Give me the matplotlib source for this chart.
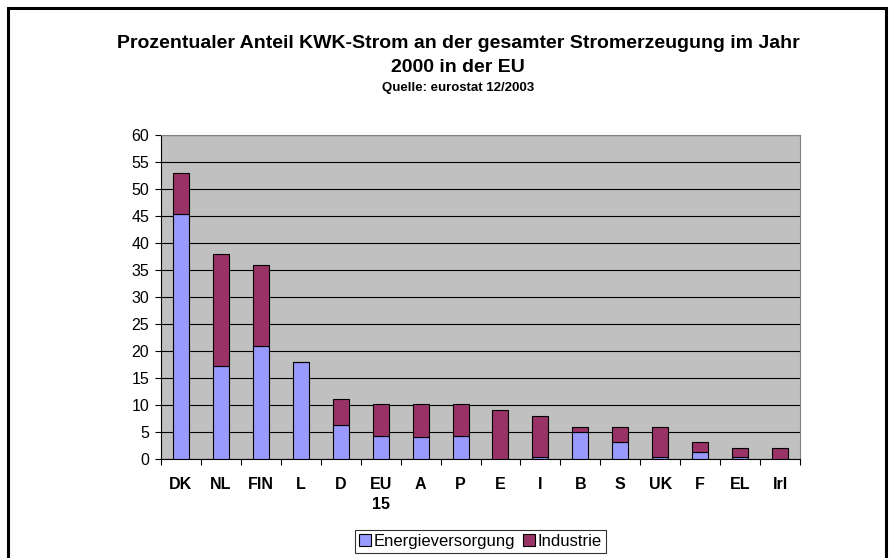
import matplotlib
matplotlib.use("Agg")
import matplotlib.pyplot as plt
from matplotlib.patches import Rectangle, Patch

plt.rcParams["font.family"] = ["Liberation Sans", "DejaVu Sans"]

# Anteil KWK-Strom 2000, Quelle: eurostat 12/2003
LAENDER = ["DK", "NL", "FIN", "L", "D", "EU\n15", "A", "P", "E", "I", "B", "S", "UK", "F", "EL", "Irl"]
ENERGIE = [45.4, 17.3, 21.0, 18.0, 6.3, 4.2, 4.0, 4.3, 0.0, 0.3, 5.0, 3.2, 0.3, 1.3, 0.3, 0.0]
INDUSTRIE = [7.6, 20.7, 14.9, 0.0, 4.8, 5.9, 6.1, 5.8, 9.1, 7.6, 0.9, 2.7, 5.6, 1.8, 1.7, 2.0]

BLUE = "#9999FF"
PLUM = "#993366"


def main():
    fig = plt.figure(figsize=(8.94, 5.58), dpi=100)
    ax = fig.add_axes([161 / 894, 99 / 558, 639 / 894, 324 / 558])
    ax.set_facecolor("#C0C0C0")

    x = range(len(LAENDER))
    ax.bar(x, ENERGIE, width=0.4, color=BLUE, edgecolor="black", linewidth=0.8, zorder=3,
           label="Energieversorgung")
    ax.bar(x, INDUSTRIE, width=0.4, bottom=ENERGIE, color=PLUM, edgecolor="black",
           linewidth=0.8, zorder=3, label="Industrie")

    ax.set_xlim(-0.5, len(LAENDER) - 0.5)
    ax.set_ylim(0, 60)
    ax.set_yticks(range(0, 61, 5))
    ax.tick_params(axis="y", labelsize=11.5, length=4.5, width=0.8, pad=4)
    ax.yaxis.grid(True, color="black", linewidth=0.8, zorder=1)
    ax.set_axisbelow(True)

    ax.set_xticks([i + 0.5 for i in range(-1, len(LAENDER))])
    ax.set_xticklabels([])
    ax.set_xticks(list(x), minor=True)
    ax.set_xticklabels(LAENDER, minor=True, fontsize=11.5, fontweight="bold", va="top",
                       linespacing=1.45)
    ax.tick_params(axis="x", which="major", length=4, width=0.8)
    ax.tick_params(axis="x", which="minor", length=0, pad=12.8)

    for s in ["top", "right"]:
        ax.spines[s].set_color("#808080")
    for s in ["left", "bottom"]:
        ax.spines[s].set_color("black")
        ax.spines[s].set_linewidth(0.8)

    fig.text(458 / 894, 1 - 43 / 558, "Prozentualer Anteil KWK-Strom an der gesamter Stromerzeugung im Jahr",
             ha="center", va="center", fontsize=14, fontweight="bold")
    fig.text(458 / 894, 1 - 68 / 558, "2000 in der EU", ha="center", va="center",
             fontsize=14, fontweight="bold")
    fig.text(458 / 894, 1 - 88 / 558, "Quelle: eurostat 12/2003", ha="center", va="center",
             fontsize=9.5, fontweight="bold")

    handles = [Patch(facecolor=BLUE, edgecolor="black", linewidth=0.8, label="Energieversorgung"),
               Patch(facecolor=PLUM, edgecolor="black", linewidth=0.8, label="Industrie")]
    leg = fig.legend(handles=handles, loc="center", bbox_to_anchor=(480.5 / 894, 1 - 541.5 / 558),
                     ncol=2, fontsize=12, frameon=True, fancybox=False, handlelength=0.7,
                     handleheight=0.7, handletextpad=0.15, columnspacing=0.5, borderpad=0.25,
                     borderaxespad=0)
    leg.get_frame().set_edgecolor("black")
    leg.get_frame().set_linewidth(0.8)

    # outer chart frame (bottom edge lies outside the picture)
    fig.patches.append(Rectangle((8 / 894, -0.05), 878 / 894, 1.05 - 8 / 558,
                                 transform=fig.transFigure, fill=False,
                                 edgecolor="black", linewidth=2.2))

    fig.savefig("out.png", dpi=100)
    plt.close(fig)


if __name__ == "__main__":
    main()
